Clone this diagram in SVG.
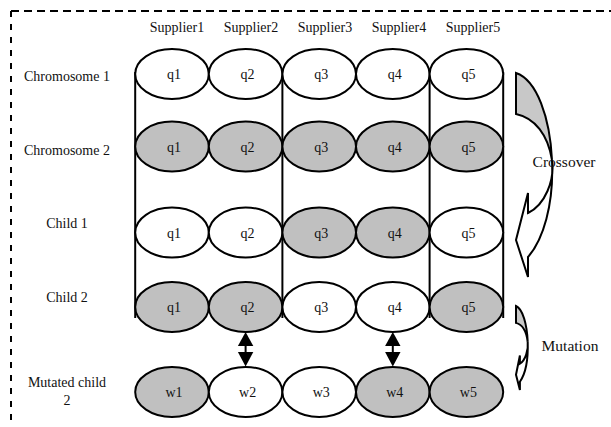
<svg xmlns="http://www.w3.org/2000/svg" width="611" height="427" viewBox="0 0 611 427">
<style>
text{font-family:"Liberation Serif","Times New Roman",serif;font-size:14px;fill:#111;text-anchor:middle}
.big{font-size:15.5px}
.w{fill:#fff;stroke:#000;stroke-width:2}
.g{fill:#c0c0c0;stroke:#000;stroke-width:2}
.ln{stroke:#000;stroke-width:2;fill:none}
.sh{stroke:#000;stroke-width:2;stroke-linejoin:miter}
</style>
<rect width="611" height="427" fill="#fff"/>
<g id="frame" fill="none" stroke="#000" stroke-width="2">
<line x1="11" y1="11" x2="611" y2="11" stroke-dasharray="8 5"/>
<line x1="11" y1="11" x2="11" y2="427" stroke-dasharray="6 7"/>
</g>
<g id="headers">
<text x="177" y="32">Supplier1</text>
<text x="251" y="32">Supplier2</text>
<text x="325" y="32">Supplier3</text>
<text x="399" y="32">Supplier4</text>
<text x="473" y="32">Supplier5</text>
</g>
<g id="row-labels">
<text x="67" y="81">Chromosome 1</text>
<text x="67" y="155">Chromosome 2</text>
<text x="67" y="228">Child 1</text>
<text x="67" y="302">Child 2</text>
<text x="67" y="387">Mutated child</text>
<text x="67" y="405">2</text>
</g>
<g id="connectors">
<line class="ln" x1="135.2" y1="72" x2="135.2" y2="318"/>
<line class="ln" x1="282.4" y1="72" x2="282.4" y2="318"/>
<line class="ln" x1="429.6" y1="72" x2="429.6" y2="318"/>
<line class="ln" x1="503.2" y1="72" x2="503.2" y2="318"/>
<g id="swap2">
<line class="ln" x1="245.6" y1="340" x2="245.6" y2="358"/>
<polygon points="245.6,332 253.3,346 237.9,346" fill="#000"/>
<polygon points="245.6,366.5 253.3,352 237.9,352" fill="#000"/>
</g>
<g id="swap4">
<line class="ln" x1="392.8" y1="340" x2="392.8" y2="358"/>
<polygon points="392.8,332 400.5,346 385.1,346" fill="#000"/>
<polygon points="392.8,366.5 400.5,352 385.1,352" fill="#000"/>
</g>
</g>
<g id="crossover-arrow">
<path class="sh" fill="#c8c8c8" d="M516,73 C537,80 550,118 552,160 C548,135 535,118 516,114 Z"/>
<path class="sh" fill="#fff" d="M552,160 C554,205 543,240 528,257 L528,277 L516,240 L528,193 L528,213 C545,205 555,180 552,160 Z"/>
</g>
<g id="mutation-arrow">
<path class="sh" fill="#c8c8c8" d="M516,306 C522.8,308.9 527,324.5 527.7,341.8 C526.4,331.5 522.2,324.5 516,322.9 Z"/>
<path class="sh" fill="#fff" d="M527.7,341.8 C528.3,360.4 524.8,374.8 519.9,381.8 L519.9,390 L516,374.8 L519.9,355.4 L519.9,363.7 C525.4,360.4 528.6,350.1 527.7,341.8 Z"/>
</g>
<text class="big" x="564" y="167">Crossover</text>
<text class="big" x="570" y="351">Mutation</text>
<g id="chromosome1">
<g id="c1q1"><ellipse class="w" cx="172" cy="74" rx="36.8" ry="25"/><text x="174" y="79">q1</text></g>
<g id="c1q2"><ellipse class="w" cx="245.6" cy="74" rx="36.8" ry="25"/><text x="247.6" y="79">q2</text></g>
<g id="c1q3"><ellipse class="w" cx="319.2" cy="74" rx="36.8" ry="25"/><text x="321.2" y="79">q3</text></g>
<g id="c1q4"><ellipse class="w" cx="392.8" cy="74" rx="36.8" ry="25"/><text x="394.8" y="79">q4</text></g>
<g id="c1q5"><ellipse class="w" cx="466.4" cy="74" rx="36.8" ry="25"/><text x="468.4" y="79">q5</text></g>
</g>
<g id="chromosome2">
<g id="c2q1"><ellipse class="g" cx="172" cy="146.5" rx="36.8" ry="25"/><text x="174" y="151.5">q1</text></g>
<g id="c2q2"><ellipse class="g" cx="245.6" cy="146.5" rx="36.8" ry="25"/><text x="247.6" y="151.5">q2</text></g>
<g id="c2q3"><ellipse class="g" cx="319.2" cy="146.5" rx="36.8" ry="25"/><text x="321.2" y="151.5">q3</text></g>
<g id="c2q4"><ellipse class="g" cx="392.8" cy="146.5" rx="36.8" ry="25"/><text x="394.8" y="151.5">q4</text></g>
<g id="c2q5"><ellipse class="g" cx="466.4" cy="146.5" rx="36.8" ry="25"/><text x="468.4" y="151.5">q5</text></g>
</g>
<g id="child1">
<g id="ch1q1"><ellipse class="w" cx="172" cy="232.5" rx="36.8" ry="25"/><text x="174" y="237.5">q1</text></g>
<g id="ch1q2"><ellipse class="w" cx="245.6" cy="232.5" rx="36.8" ry="25"/><text x="247.6" y="237.5">q2</text></g>
<g id="ch1q3"><ellipse class="g" cx="319.2" cy="232.5" rx="36.8" ry="25"/><text x="321.2" y="237.5">q3</text></g>
<g id="ch1q4"><ellipse class="g" cx="392.8" cy="232.5" rx="36.8" ry="25"/><text x="394.8" y="237.5">q4</text></g>
<g id="ch1q5"><ellipse class="w" cx="466.4" cy="232.5" rx="36.8" ry="25"/><text x="468.4" y="237.5">q5</text></g>
</g>
<g id="child2">
<g id="ch2q1"><ellipse class="g" cx="172" cy="307" rx="36.8" ry="25"/><text x="174" y="312">q1</text></g>
<g id="ch2q2"><ellipse class="g" cx="245.6" cy="307" rx="36.8" ry="25"/><text x="247.6" y="312">q2</text></g>
<g id="ch2q3"><ellipse class="w" cx="319.2" cy="307" rx="36.8" ry="25"/><text x="321.2" y="312">q3</text></g>
<g id="ch2q4"><ellipse class="w" cx="392.8" cy="307" rx="36.8" ry="25"/><text x="394.8" y="312">q4</text></g>
<g id="ch2q5"><ellipse class="g" cx="466.4" cy="307" rx="36.8" ry="25"/><text x="468.4" y="312">q5</text></g>
</g>
<g id="mutated-child2">
<g id="mw1"><ellipse class="g" cx="172" cy="392" rx="36.8" ry="25"/><text x="174" y="397">w1</text></g>
<g id="mw2"><ellipse class="w" cx="245.6" cy="392" rx="36.8" ry="25"/><text x="247.6" y="397">w2</text></g>
<g id="mw3"><ellipse class="w" cx="319.2" cy="392" rx="36.8" ry="25"/><text x="321.2" y="397">w3</text></g>
<g id="mw4"><ellipse class="g" cx="392.8" cy="392" rx="36.8" ry="25"/><text x="394.8" y="397">w4</text></g>
<g id="mw5"><ellipse class="g" cx="466.4" cy="392" rx="36.8" ry="25"/><text x="468.4" y="397">w5</text></g>
</g>
</svg>
